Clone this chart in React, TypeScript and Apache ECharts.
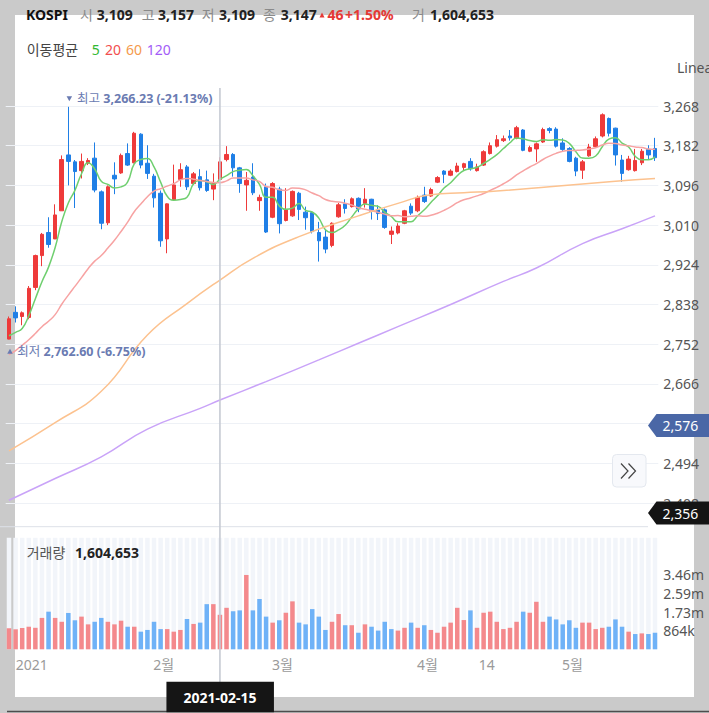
import React, { useEffect, useRef } from "react";
import * as echarts from "echarts";

const FONT = "'Noto Sans', 'Noto Sans CJK KR', sans-serif";

const dates = [
  "2020-12-24", "2020-12-28", "2020-12-29", "2020-12-30",
  "2021-01-04", "2021-01-05", "2021-01-06", "2021-01-07", "2021-01-08", "2021-01-11", "2021-01-12", "2021-01-13", "2021-01-14", "2021-01-15",
  "2021-01-18", "2021-01-19", "2021-01-20", "2021-01-21", "2021-01-22", "2021-01-25", "2021-01-26", "2021-01-27", "2021-01-28", "2021-01-29",
  "2021-02-01", "2021-02-02", "2021-02-03", "2021-02-04", "2021-02-05", "2021-02-08", "2021-02-09", "2021-02-10", "2021-02-15", "2021-02-16",
  "2021-02-17", "2021-02-18", "2021-02-19", "2021-02-22", "2021-02-23", "2021-02-24", "2021-02-25", "2021-02-26",
  "2021-03-02", "2021-03-03", "2021-03-04", "2021-03-05", "2021-03-08", "2021-03-09", "2021-03-10", "2021-03-11", "2021-03-12", "2021-03-15",
  "2021-03-16", "2021-03-17", "2021-03-18", "2021-03-19", "2021-03-22", "2021-03-23", "2021-03-24", "2021-03-25", "2021-03-26", "2021-03-29",
  "2021-03-30", "2021-03-31",
  "2021-04-01", "2021-04-02", "2021-04-05", "2021-04-06", "2021-04-07", "2021-04-08", "2021-04-09", "2021-04-12", "2021-04-13", "2021-04-14",
  "2021-04-15", "2021-04-16", "2021-04-19", "2021-04-20", "2021-04-21", "2021-04-22", "2021-04-23", "2021-04-26", "2021-04-27", "2021-04-28",
  "2021-04-29", "2021-04-30",
  "2021-05-03", "2021-05-04", "2021-05-06", "2021-05-07", "2021-05-10", "2021-05-11", "2021-05-12", "2021-05-13", "2021-05-14", "2021-05-17",
  "2021-05-18", "2021-05-20", "2021-05-21",
];

const opens = [
  2763, 2821, 2812, 2810, 2875, 2944, 2994, 2980, 3041, 3162,
  3147, 3128, 3144, 3155, 3082, 3015, 3118, 3123, 3165, 3145,
  3207, 3144, 3116, 3079, 2980, 3065, 3109, 3136, 3100, 3115,
  3108, 3088, 3109, 3152, 3163, 3134, 3097, 3114, 3063, 3093,
  3027, 3088, 3020, 3030, 3079, 3038, 3037, 2994, 2984, 2966,
  3028, 3056, 3050, 3068, 3057, 3066, 3043, 3043, 2990, 2993,
  3014, 3051, 3041, 3075, 3073, 3103, 3127, 3118, 3126, 3135,
  3148, 3128, 3140, 3165, 3181, 3193, 3203, 3198, 3216, 3170,
  3175, 3190, 3219, 3218, 3188, 3176, 3155, 3129, 3160, 3180,
  3203, 3241, 3220, 3151, 3130, 3128, 3145, 3174, 3176,
];
const closes = [
  2807, 2809, 2820, 2873, 2944, 2990, 2968, 3032, 3152, 3148,
  3126, 3148, 3150, 3086, 3014, 3093, 3110, 3161, 3140, 3209,
  3140, 3122, 3069, 2976, 3056, 3097, 3130, 3093, 3121, 3091,
  3085, 3100, 3147, 3163, 3134, 3100, 3107, 3080, 3070, 2995,
  3100, 3013, 3043, 3083, 3044, 3026, 2996, 2976, 2958, 3014,
  3054, 3046, 3067, 3045, 3066, 3040, 3035, 3005, 2997, 3008,
  3041, 3036, 3070, 3061, 3087, 3113, 3120, 3127, 3138, 3143,
  3132, 3136, 3169, 3182, 3195, 3197, 3199, 3221, 3172, 3178,
  3186, 3217, 3215, 3181, 3174, 3148, 3127, 3147, 3179, 3197,
  3249, 3209, 3162, 3122, 3153, 3150, 3170, 3162, 3156,
];
const lows = [
  2762.6, 2799, 2793, 2806, 2869, 2921, 2961, 2980, 3041, 3096,
  3047, 3111, 3140, 3081, 3001, 3010, 3077, 3121, 3138, 3144,
  3133, 3110, 3048, 2963, 2949, 3063, 3093, 3086, 3097, 3085,
  3082, 3064, 3109, 3148, 3115, 3080, 3041, 3075, 3041, 2993,
  3025, 2992, 3018, 3028, 3021, 3000, 2992, 2931, 2949, 2962,
  3026, 3035, 3048, 3038, 3048, 3022, 3021, 3002, 2969, 2990,
  3012, 3032, 3038, 3058, 3071, 3101, 3101, 3116, 3124, 3128,
  3128, 3126, 3138, 3163, 3178, 3190, 3193, 3196, 3170, 3168,
  3147, 3188, 3209, 3178, 3169, 3146, 3116, 3110, 3158, 3178,
  3200, 3202, 3139, 3104, 3128, 3126, 3140, 3153, 3149,
];
const highs = [
  2812, 2834, 2823, 2878, 2946, 2993, 3027, 3055, 3161, 3266.23,
  3151, 3165, 3155, 3189, 3085, 3096, 3146, 3165, 3187, 3212,
  3209, 3183, 3121, 3085, 3057, 3141, 3144, 3140, 3125, 3131,
  3128, 3122, 3157, 3181, 3166, 3136, 3125, 3144, 3076, 3100,
  3103, 3093, 3090, 3085, 3082, 3050, 3040, 3017, 3000, 3016,
  3058, 3066, 3070, 3070, 3090, 3067, 3053, 3046, 3007, 3014,
  3043, 3057, 3074, 3093, 3091, 3116, 3129, 3131, 3145, 3145,
  3155, 3143, 3172, 3189, 3205, 3204, 3216, 3225, 3218, 3182,
  3189, 3221, 3222, 3222, 3198, 3179, 3158, 3151, 3186, 3202,
  3252, 3243, 3221, 3162, 3160, 3175, 3175, 3183, 3199,
];
const volumes = [
  980000, 930000, 990000, 1050000, 1000000, 1460000, 1750000, 1460000, 1280000, 1690000,
  1350000, 1520000, 1160000, 1280000, 1460000, 1280000, 1160000, 1330000, 1050000, 1050000,
  820000, 900000, 1280000, 940000, 940000, 820000, 900000, 1410000, 1180000, 1240000,
  2100000, 2100000, 1604653, 1930000, 1770000, 1810000, 3457200, 1810000, 2340000, 1520000,
  1240000, 1350000, 1700000, 2230000, 1240000, 1160000, 1870000, 1520000, 900000, 1280000,
  1640000, 1120000, 1120000, 770000, 1160000, 1050000, 870000, 1280000, 940000, 870000,
  1000000, 1240000, 1000000, 1120000, 900000, 770000, 1050000, 1240000, 1930000, 1360000,
  1810000, 1000000, 1700000, 1750000, 1280000, 940000, 1000000, 1280000, 1750000, 1700000,
  2210000, 1280000, 1520000, 1390000, 1160000, 1350000, 1000000, 1240000, 1240000, 940000,
  1000000, 1050000, 1390000, 1050000, 820000, 710000, 740000, 710000, 770000,
];
// closes before the visible window (estimated from where the MA5 / MA20 lines start)
const priorCloses = [
  2633.45, 2591.34, 2634.25, 2672.66, 2696.22, 2731.45, 2745.44, 2700.93, 2755.47, 2746.46,
  2770.06, 2762.2, 2756.82, 2771.79, 2770.43, 2772.18, 2778.65, 2733.68, 2759.82,
];
// long moving averages at sample candles
const ma60Idx = [0, 7, 14, 21, 27, 32, 37, 44, 53, 59, 64, 69, 74, 82, 92, 98];
const ma60Val = [2521, 2582, 2650, 2772, 2840, 2891, 2938, 2985, 3030, 3057, 3076, 3080, 3084, 3093, 3105, 3111];
const ma120Idx = [0, 7, 14, 21, 29, 32, 39, 47, 53, 59, 67, 75, 80, 87, 93, 98];
const ma120Val = [2414, 2461, 2508, 2568, 2613, 2631, 2671, 2718, 2754, 2790, 2838, 2888, 2917, 2970, 3002, 3030];

const maNames = ["5", "20", "60", "120"];
const maLineColors = ["#6fcf6f", "#f7a3a3", "#fcc28f", "#c9a3f8"];
const maTextColors = ["#33b833", "#f24e4e", "#f59a4c", "#a35cf7"];

const tickDates = ["2021-01-04", "2021-02-01", "2021-03-02", "2021-04-01", "2021-04-14", "2021-05-03"];
const tickTexts = ["2021", "2월", "3월", "4월", "14", "5월"];

const crossDate = "2021-02-15";
const crossChange = "46";
const crossPct = "+1.50%";
const hiPct = "-21.13%";
const loPct = "-6.75%";
const tagValues = [2576, 2356];
const tagColors = ["#4a67a6", "#141414"];

const UP = "#ee3a3a";
const DOWN = "#1f7fe6";
const VOL_UP = "#f4898c";
const VOL_DOWN = "#6fb2f7";
const ANN = "#6a7bb2";

const fmt = (v: number, d = 0) =>
  v.toLocaleString("en-US", { minimumFractionDigits: d, maximumFractionDigits: d });

function movingAvg(n: number) {
  const all = [...priorCloses, ...closes];
  return closes.map((_, i) => {
    const end = priorCloses.length + i;
    let s = 0;
    for (let k = end - n + 1; k <= end; k++) s += all[k];
    return +(s / n).toFixed(2);
  });
}
function sparse(idx: number[], val: number[]) {
  const arr: (number | null)[] = closes.map(() => null);
  idx.forEach((k, j) => (arr[k] = val[j]));
  return arr;
}

function buildOption() {
  const ohlc = dates.map((_, i) => [opens[i], closes[i], lows[i], highs[i]]);
  const volStep = Math.max(...volumes) / 4;
  const volData = volumes.map((v, i) => {
    const prev = i === 0 ? priorCloses[priorCloses.length - 1] : closes[i - 1];
    return { value: v, itemStyle: { color: closes[i] >= prev ? VOL_UP : VOL_DOWN } };
  });
  const hiIdx = highs.indexOf(Math.max(...highs));
  const loIdx = lows.indexOf(Math.min(...lows));
  const maData = [movingAvg(5), movingAvg(20), sparse(ma60Idx, ma60Val), sparse(ma120Idx, ma120Val)];

  return {
    animation: false,
    textStyle: { fontFamily: FONT },
    grid: [
      { left: 5.7, right: 50.7, top: 66.3, height: 476.4, containLabel: false, outerBoundsMode: "none" },
      { left: 5.7, right: 50.7, top: 537.8, height: 111.5, containLabel: false, outerBoundsMode: "none" },
    ],
    xAxis: [
      {
        type: "category", gridIndex: 0, data: dates, boundaryGap: true,
        axisLine: { show: false }, axisTick: { show: false }, axisLabel: { show: false }, splitLine: { show: false },
      },
      {
        type: "category", gridIndex: 1, data: dates, boundaryGap: true,
        axisLine: { show: false }, axisTick: { show: false }, splitLine: { show: false },
        axisLabel: {
          interval: (i: number) => tickDates.includes(dates[i]),
          formatter: (v: string) => tickTexts[tickDates.indexOf(v)] ?? "",
          color: "#9a9a9a", fontSize: 14, fontFamily: FONT, margin: 8, padding: [0, 7, 0, 0],
          hideOverlap: false,
        },
      },
    ],
    yAxis: [
      {
        type: "value", gridIndex: 0, position: "right", min: 2322, max: 3354, interval: 86,
        axisLine: { show: false }, axisTick: { show: false },
        splitLine: { show: true, showMinLine: false, showMaxLine: false, lineStyle: { color: "#eef1f6", width: 1 } },
        axisLabel: {
          showMinLabel: false, showMaxLabel: false, color: "#555", fontSize: 14, fontFamily: FONT, margin: 5,
          // the label under the first value tag is fully covered in the reference
          formatter: (v: number) => (Math.abs(v - tagValues[0]) < 20 ? "" : fmt(v)),
        },
      },
      {
        type: "value", gridIndex: 1, position: "right", min: 0, max: volStep * 6, interval: volStep,
        axisLine: { show: false }, axisTick: { show: false }, splitLine: { show: false },
        axisLabel: {
          showMinLabel: false, showMaxLabel: false, color: "#555", fontSize: 14, fontFamily: FONT, margin: 5,
          formatter: (v: number) => {
            if (v <= 0 || v > volStep * 4.01) return "";
            if (v < 1e6) return Math.round(v / 1000) + "k";
            return (v / 1e6).toFixed(2) + "m";
          },
        },
      },
    ],
    series: [
      {
        type: "candlestick", xAxisIndex: 0, yAxisIndex: 0, data: ohlc, barWidth: 4,
        itemStyle: { color: UP, color0: DOWN, borderColor: UP, borderColor0: DOWN, borderWidth: 1 },
        markPoint: {
          itemStyle: { color: ANN },
          label: {
            show: true, position: "right", color: ANN, fontFamily: FONT,
            rich: {
              a: { color: ANN, fontSize: 12.5, fontFamily: FONT },
              b: { color: ANN, fontSize: 12.5, fontWeight: "bold", fontFamily: FONT },
            },
          },
          data: [
            {
              coord: [hiIdx, highs[hiIdx]], symbol: "path://M0,0L10,0L5,8Z", symbolSize: [5.5, 5], symbolOffset: [1, -8],
              label: { distance: 5, formatter: () => `{a|최고 }{b|${fmt(highs[hiIdx], 2)} (${hiPct})}` },
            },
            {
              coord: [loIdx, lows[loIdx]], symbol: "path://M5,0L10,8L0,8Z", symbolSize: [5.5, 5], symbolOffset: [1, 12],
              label: { distance: 4.5, formatter: () => `{a|최저 }{b|${fmt(lows[loIdx], 2)} (${loPct})}` },
            },
          ],
        },
      },
      ...maData.map((d, k) => ({
        type: "line", name: "MA" + maNames[k], xAxisIndex: 0, yAxisIndex: 0, data: d,
        symbol: "none", smooth: true, connectNulls: true, z: 3,
        lineStyle: { color: maLineColors[k], width: 1.5 },
      })),
      {
        type: "bar", xAxisIndex: 1, yAxisIndex: 1, data: volData, barWidth: 4.5,
        showBackground: true, backgroundStyle: { color: "#f2f5fa" },
      },
    ],
  };
}

function txt(x: number, y: number, text: string, color: string, size = 14, bold = false, align = "left", z = 100) {
  return {
    type: "text", x, y, z,
    style: {
      text, fill: color,
      font: `${bold ? "bold " : ""}${size}px ${FONT}`,
      textAlign: align, textVerticalAlign: "middle", align, verticalAlign: "middle",
    },
  };
}

function buildGraphics(cx: number, tagYs: number[]) {
  const i = dates.indexOf(crossDate);
  const els: any[] = [];
  // header
  els.push(txt(26, 14.3, "KOSPI", "#111", 14, true));
  const fields: [number, string, number, string][] = [
    [80, "시", 96.7, fmt(opens[i])],
    [141.7, "고", 158, fmt(highs[i])],
    [201.7, "저", 219, fmt(lows[i])],
    [263, "종", 280.7, fmt(closes[i])],
  ];
  fields.forEach(([lx, l, vx, v]) => {
    els.push(txt(lx, 14.3, l, "#8a8a8a", 14));
    els.push(txt(vx, 14.3, v, "#222", 14, true));
  });
  els.push({ type: "polygon", z: 100, shape: { points: [[319.5, 17.6], [324.5, 17.6], [322, 12.6]] }, style: { fill: "#e53935" } });
  els.push(txt(327.5, 14.3, crossChange, "#e53935", 14, true));
  els.push(txt(345, 14.3, crossPct, "#e53935", 14, true));
  els.push(txt(412, 14.3, "거", "#8a8a8a", 14));
  els.push(txt(430, 14.3, fmt(volumes[i]), "#222", 14, true));
  // MA legend
  els.push(txt(26.7, 49.3, "이동평균", "#444", 14));
  const legX = [91.7, 105, 126, 146.7];
  maNames.forEach((n, k) => els.push(txt(legX[k], 49.3, n, maTextColors[k], 14)));
  els.push(txt(677, 67, "Linea", "#555", 14));
  // pane separator
  els.push({ type: "line", z: 90, shape: { x1: 0, y1: 526.7, x2: 648, y2: 526.7 }, style: { stroke: "#dde1e8", lineWidth: 1 } });
  // volume label
  els.push(txt(26.7, 552.7, "거래량", "#555", 14));
  els.push(txt(75, 552.7, fmt(volumes[i]), "#222", 14, true));
  // crosshair
  els.push({ type: "line", z: 95, shape: { x1: cx, y1: 88, x2: cx, y2: 682 }, style: { stroke: "#c6cad3", lineWidth: 1.6 } });
  // bottom frame line
  els.push({ type: "line", z: 90, shape: { x1: 7, y1: 711.6, x2: 709, y2: 711.6 }, style: { stroke: "#4d4d4d", lineWidth: 1.5 } });
  // date box
  els.push({ type: "rect", z: 100, shape: { x: cx - 53.5, y: 681.7, width: 107.5, height: 30.5 }, style: { fill: "#151515" } });
  els.push(txt(cx, 697, crossDate, "#ffffff", 14, true, "center", 101));
  // value tags on the price axis
  tagValues.forEach((v, k) => {
    const y = Math.min(tagYs[k], 513);
    els.push({
      type: "polygon", z: 100,
      shape: { points: [[648, y], [656.5, y - 11.5], [709, y - 11.5], [709, y + 11.5], [656.5, y + 11.5]] },
      style: { fill: tagColors[k] },
    });
    els.push(txt(662.5, y, fmt(v), "#ffffff", 14, false, "left", 101));
  });
  // scroll button
  els.push({ type: "rect", z: 100, shape: { x: 612.5, y: 454.5, width: 33.5, height: 32.5, r: 4 }, style: { fill: "#f8f9fc", stroke: "#e4e8ef", lineWidth: 1 } });
  els.push({ type: "polyline", z: 101, shape: { points: [[621, 463.5], [628, 471], [621, 478.5]] }, style: { stroke: "#444", lineWidth: 1.2, fill: null } });
  els.push({ type: "polyline", z: 101, shape: { points: [[628.5, 463.5], [635.5, 471], [628.5, 478.5]] }, style: { stroke: "#444", lineWidth: 1.2, fill: null } });
  return els;
}

export default function App() {
  const ref = useRef<HTMLDivElement>(null);
  useEffect(() => {
    if (!ref.current) return;
    const chart = echarts.init(ref.current, null, { renderer: "svg" });
    chart.setOption(buildOption() as any);
    const cx = chart.convertToPixel({ xAxisIndex: 0 }, dates.indexOf(crossDate)) as number;
    const tagYs = tagValues.map((v) => chart.convertToPixel({ yAxisIndex: 0 }, v) as number);
    chart.setOption({ graphic: { elements: buildGraphics(cx, tagYs) } } as any);
    return () => chart.dispose();
  }, []);
  return (
    <div style={{ position: "fixed", left: 0, top: 0, width: 709, height: 713, background: "#cacaca", overflow: "hidden" }}>
      <div style={{ position: "absolute", left: 15, top: 15, width: 679, height: 682, background: "#ffffff" }} />
      <div ref={ref} style={{ position: "absolute", left: 0, top: 0, width: 709, height: 713 }} />
    </div>
  );
}
